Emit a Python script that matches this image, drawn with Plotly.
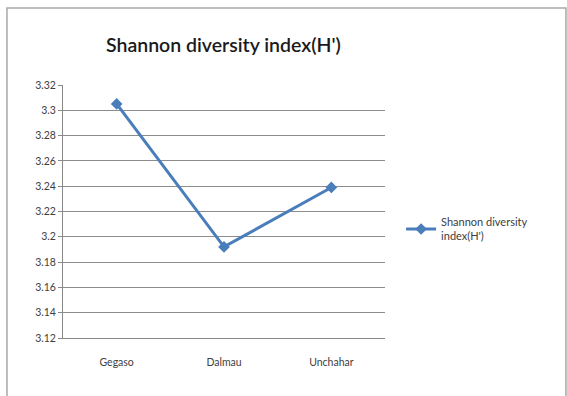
import plotly.graph_objects as go

sites = ["Gegaso", "Dalmau", "Unchahar"]
shannon = [3.305, 3.192, 3.239]
y_ticks = [3.12, 3.14, 3.16, 3.18, 3.2, 3.22, 3.24, 3.26, 3.28, 3.3, 3.32]
y_labels = ["3.12", "3.14", "3.16", "3.18", "3.2", "3.22", "3.24", "3.26", "3.28", "3.3", "3.32"]

fig = go.Figure()
fig.add_trace(go.Scatter(
    x=sites, y=shannon, mode="lines+markers",
    name="Shannon diversity<br>index(H')",
    line=dict(color="#4a7ebb", width=3),
    marker=dict(symbol="diamond", size=9, color="#4a7ebb"),
))

fig.update_layout(
    width=567, height=396,
    margin=dict(l=63, r=182, t=85, b=58),
    paper_bgcolor="white", plot_bgcolor="white",
    title=dict(text="Shannon diversity index(H')", x=0.394, xanchor="center",
               y=0.885, yanchor="middle",
               font=dict(family="Lato", size=19.5, color="#1a1a1a", weight=600)),
    font=dict(family="Lato", size=10, color="#404040"),
    showlegend=True,
    legend=dict(x=1.05, xanchor="left", y=0.43, yanchor="middle",
                font=dict(size=11, color="#404040"), bgcolor="rgba(0,0,0,0)"),
    xaxis=dict(range=[-0.5, 2.5], showgrid=False, showline=True, linecolor="#888",
               ticks="", tickfont=dict(size=10.5), ticklabelstandoff=14),
    yaxis=dict(range=[3.12, 3.32], tickvals=y_ticks, ticktext=y_labels,
               showgrid=True, gridcolor="#8c8c8c", gridwidth=1,
               showline=True, linecolor="#888", ticks="outside", ticklen=4,
               tickcolor="#888", tickfont=dict(size=10.5), zeroline=False),
    shapes=[dict(type="rect", xref="paper", yref="paper",
                 x0=-0.174, x1=1.562, y0=-0.35, y1=1.304,
                 line=dict(color="#a8a8a8", width=1.5))],
)

fig.write_html("out.html")
